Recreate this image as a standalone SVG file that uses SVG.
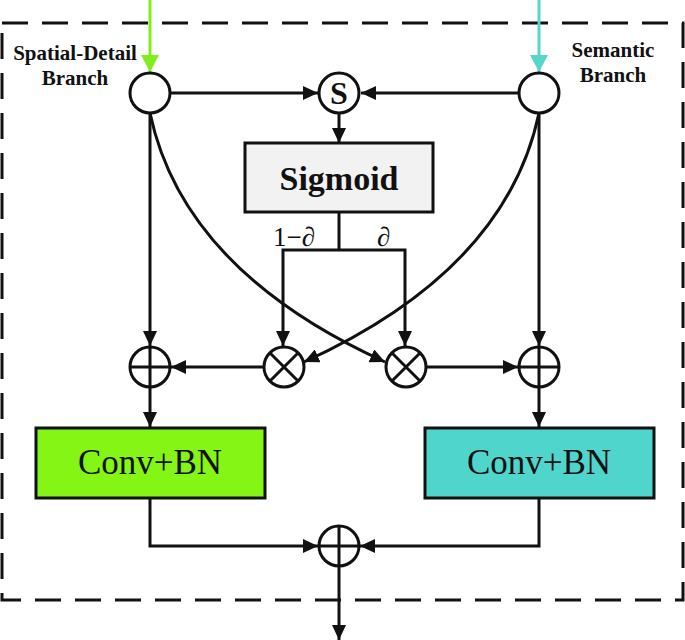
<svg xmlns="http://www.w3.org/2000/svg" width="685" height="640" viewBox="0 0 685 640">
<defs>
<marker id="ah" markerWidth="15" markerHeight="14" refX="15" refY="7" orient="auto" markerUnits="userSpaceOnUse"><path d="M0,0 L15,7 L0,14 z" fill="#111"/></marker>
<marker id="ahg" markerWidth="17" markerHeight="18" refX="17" refY="9" orient="auto" markerUnits="userSpaceOnUse"><path d="M0,0 L17,9 L0,18 z" fill="#80ee1e"/></marker>
<marker id="ahc" markerWidth="17" markerHeight="18" refX="17" refY="9" orient="auto" markerUnits="userSpaceOnUse"><path d="M0,0 L17,9 L0,18 z" fill="#56d5cd"/></marker>
<style>
.ln{fill:none;stroke:#111;stroke-width:3}
.c{fill:#fff;stroke:#111;stroke-width:3}
.bx{stroke:#111;stroke-width:3}
.t{font-family:"Liberation Serif",serif;fill:#111}
.lbl{font-family:"Liberation Serif",serif;font-weight:bold;font-size:21px;fill:#111;text-anchor:middle}
</style>
</defs>
<rect x="2" y="23" width="681" height="577" fill="none" stroke="#111" stroke-width="3" stroke-dasharray="26 14"/>
<g id="labels">
<text class="lbl" x="75" y="60">Spatial-Detail</text>
<text class="lbl" x="75" y="85">Branch</text>
<text class="lbl" x="613" y="57">Semantic</text>
<text class="lbl" x="613" y="82">Branch</text>
</g>
<g id="connectors">
<line x1="150" y1="0" x2="150" y2="72" stroke="#80ee1e" stroke-width="3" marker-end="url(#ahg)"/>
<line x1="539" y1="0" x2="539" y2="72" stroke="#56d5cd" stroke-width="3" marker-end="url(#ahc)"/>
<line class="ln" x1="170" y1="93" x2="318" y2="93" marker-end="url(#ah)"/>
<line class="ln" x1="519" y1="93" x2="361" y2="93" marker-end="url(#ah)"/>
<line class="ln" x1="339" y1="114" x2="339" y2="143" marker-end="url(#ah)"/>
<polyline class="ln" points="339,212 339,250"/>
<polyline class="ln" points="339,250 283,250 283,346" marker-end="url(#ah)"/>
<polyline class="ln" points="339,250 405,250 405,346" marker-end="url(#ah)"/>
<line class="ln" x1="150" y1="113" x2="150" y2="346" marker-end="url(#ah)"/>
<line class="ln" x1="539" y1="113" x2="539" y2="346" marker-end="url(#ah)"/>
<path class="ln" d="M150,113 Q183,270 385,362" marker-end="url(#ah)"/>
<path class="ln" d="M539,113 Q506,270 304,362" marker-end="url(#ah)"/>
<line class="ln" x1="264" y1="367" x2="171" y2="367" marker-end="url(#ah)"/>
<line class="ln" x1="426" y1="367" x2="518" y2="367" marker-end="url(#ah)"/>
<line class="ln" x1="150" y1="387" x2="150" y2="427" marker-end="url(#ah)"/>
<line class="ln" x1="539" y1="387" x2="539" y2="427" marker-end="url(#ah)"/>
<polyline class="ln" points="150,499 150,546 318,546" marker-end="url(#ah)"/>
<polyline class="ln" points="539,499 539,546 360,546" marker-end="url(#ah)"/>
<line class="ln" x1="339" y1="566" x2="339" y2="640" marker-end="url(#ah)"/>
<text class="t" x="315" y="246" font-size="27" text-anchor="end">1−∂</text>
<text class="t" x="377" y="246" font-size="27">∂</text>
</g>
<g id="in-spatial"><circle class="c" cx="150" cy="93" r="20"/></g>
<g id="in-semantic"><circle class="c" cx="539" cy="93" r="20"/></g>
<g id="s-node"><circle class="c" cx="339" cy="93" r="20"/><text class="t" x="339" y="104" font-size="32" font-weight="bold" text-anchor="middle">S</text></g>
<g id="sigmoid"><rect class="bx" x="245" y="143" width="188" height="69" fill="#f2f2f2"/><text class="t" x="339" y="190" font-size="34" font-weight="bold" text-anchor="middle">Sigmoid</text></g>
<g id="mul-left"><circle class="c" cx="284" cy="367" r="20"/><path class="ln" d="M270,353 L298,381 M298,353 L270,381"/></g>
<g id="mul-right"><circle class="c" cx="406" cy="367" r="20"/><path class="ln" d="M392,353 L420,381 M420,353 L392,381"/></g>
<g id="add-left"><circle class="c" cx="150" cy="367" r="20"/><path class="ln" d="M130,367 H170 M150,347 V387"/></g>
<g id="add-right"><circle class="c" cx="539" cy="367" r="20"/><path class="ln" d="M519,367 H559 M539,347 V387"/></g>
<g id="conv-left"><rect class="bx" x="36" y="428" width="229" height="70" fill="#84f514"/><text class="t" x="150" y="474" font-size="35" text-anchor="middle">Conv+BN</text></g>
<g id="conv-right"><rect class="bx" x="425" y="428" width="229" height="70" fill="#4fd5cc"/><text class="t" x="539" y="474" font-size="35" text-anchor="middle">Conv+BN</text></g>
<g id="add-out"><circle class="c" cx="339" cy="546" r="20"/><path class="ln" d="M319,546 H359 M339,526 V566"/></g>
</svg>
